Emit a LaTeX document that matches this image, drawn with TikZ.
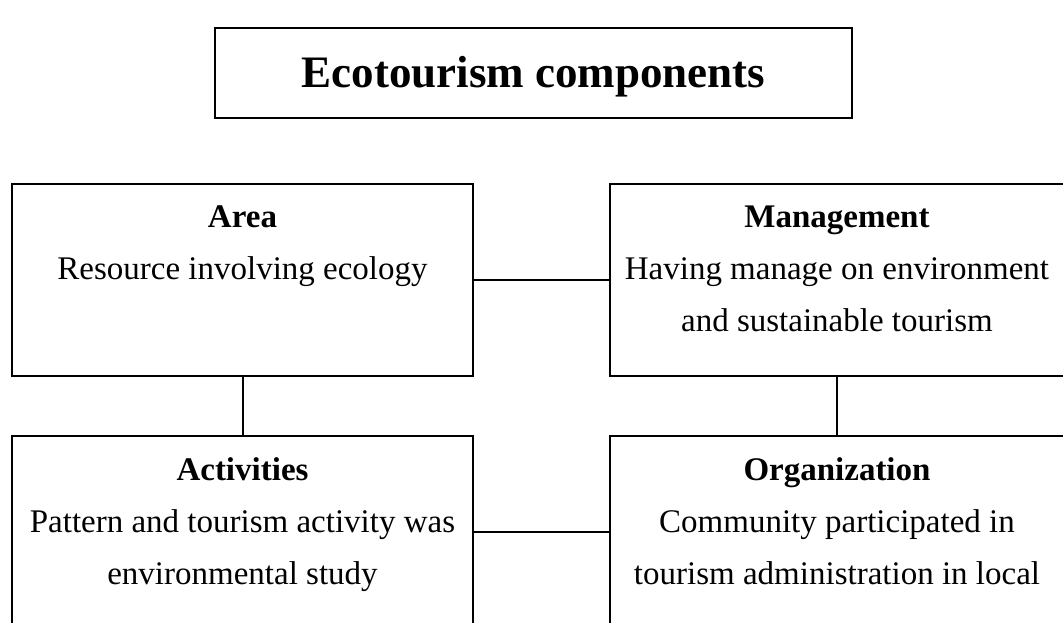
\documentclass[tikz,border=0pt]{standalone}
\usepackage{fontspec}
\setmainfont{Liberation Serif}
\usetikzlibrary{positioning}

\tikzset{
	compbox/.style={draw, line width=2pt, minimum height=192pt, inner sep=0pt},
	comptext/.style={inner sep=0pt, align=center, font=\fontsize{33}{52}\selectfont},
}

\begin{document}
\begin{tikzpicture}[x=1pt, y=-1pt, line width=2pt]
		\useasboundingbox (0,0) rectangle (1063,622);
		\clip (0,0) rectangle (1063,622);
		
		\node[draw, line width=2pt, minimum width=637pt, minimum height=90pt, text depth=2pt, font=\fontsize{45}{54}\selectfont\bfseries] (title) at (533.5,73) {Ecotourism components};
		
		\node[compbox, minimum width=461pt] (area) at (242.5,280) {};
		\node[compbox, minimum width=454pt, right = 135pt of area] (management) {};
		\node[compbox, minimum width=461pt, below = 58pt of area] (activities) {};
		\node[compbox, minimum width=454pt, right = 135pt of activities] (organization) {};
		
		\node[comptext, below = 22pt of area.north] (areatext) {\textbf{Area}\\Resource involving ecology};
		\node[comptext, below = 22pt of management.north] (managementtext) {\textbf{Management}\\Having manage on environment\\and sustainable tourism};
		\node[comptext, below = 22pt of activities.north] (activitiestext) {\textbf{Activities}\\Pattern and tourism activity was\\environmental study};
		\node[comptext, below = 22pt of organization.north] (organizationtext) {\textbf{Organization}\\Community participated in\\tourism administration in local};
		
		\path (area) edge (management);
		\path (activities) edge (organization);
		\path (area) edge (activities);
		\path (management) edge (organization);
	\end{tikzpicture}
\end{document}
